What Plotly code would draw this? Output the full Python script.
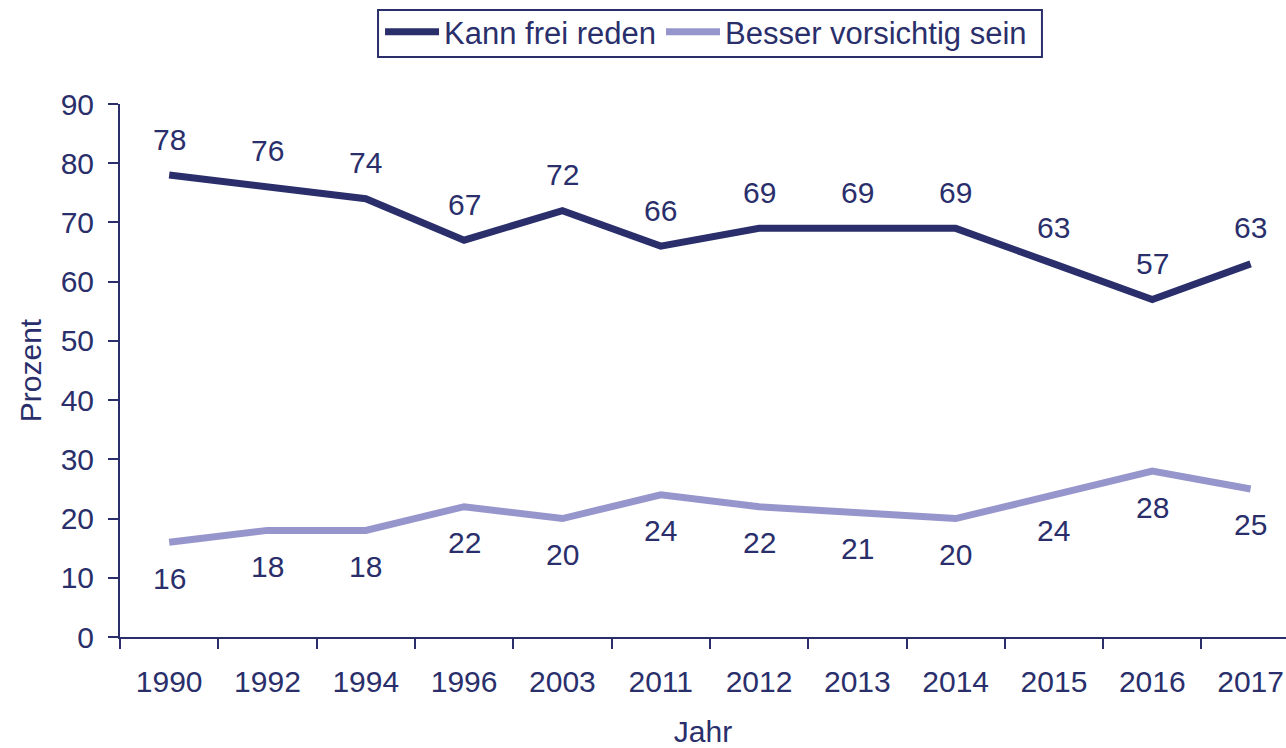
import plotly.graph_objects as go

years = ["1990", "1992", "1994", "1996", "2003", "2011", "2012", "2013", "2014", "2015", "2016", "2017"]
frei = [78, 76, 74, 67, 72, 66, 69, 69, 69, 63, 57, 63]
vorsichtig = [16, 18, 18, 22, 20, 24, 22, 21, 20, 24, 28, 25]

DARK = "#2a2f6b"
LIGHT = "#9696cc"
FONT = "Liberation Sans, Arial, sans-serif"

fig = go.Figure()
fig.add_trace(go.Scatter(x=years, y=frei, mode="lines", name="Kann frei reden",
                         line=dict(color=DARK, width=7), cliponaxis=False))
fig.add_trace(go.Scatter(x=years, y=vorsichtig, mode="lines", name="Besser vorsichtig sein",
                         line=dict(color=LIGHT, width=7), cliponaxis=False))

# category positions on the category axis (index of each year)
for i, y in enumerate(frei):
    fig.add_annotation(x=i, y=y, xref="x", yref="y", text=str(y), showarrow=False, yshift=36,
                       font=dict(size=30, color=DARK, family=FONT))
for i, y in enumerate(vorsichtig):
    fig.add_annotation(x=i, y=y, xref="x", yref="y", text=str(y), showarrow=False, yshift=-36,
                       font=dict(size=30, color=DARK, family=FONT))

# legend frame
fig.add_shape(type="rect", xref="paper", yref="paper",
              x0=0.2213, x1=0.7907, y0=1.0882, y1=1.1764,
              line=dict(color=DARK, width=2), fillcolor="rgba(0,0,0,0)", layer="above")

fig.update_layout(
    width=1286, height=748,
    margin=dict(l=120, r=0, t=104, b=111, autoexpand=False),
    paper_bgcolor="white", plot_bgcolor="white",
    font=dict(family=FONT, size=30, color=DARK),
    showlegend=True,
    legend=dict(orientation="h", x=0.5026, xanchor="center", y=1.1857, yanchor="top",
                borderwidth=0, bgcolor="rgba(0,0,0,0)",
                font=dict(size=31, color=DARK, family=FONT), itemwidth=54,
                tracegroupgap=0),
    xaxis=dict(type="category", range=[-0.5, 11.36], tickson="boundaries",
               ticks="outside", ticklen=10, tickwidth=2, tickcolor=DARK,
               showline=True, linecolor=DARK, linewidth=2, showgrid=False,
               zeroline=False, ticklabelstandoff=17, automargin=False,
               title=dict(text="Jahr", standoff=30, font=dict(size=30, color=DARK))),
    yaxis=dict(range=[0, 90], dtick=10, tick0=0, ticks="outside", ticklen=10, tickwidth=2,
               tickcolor=DARK, showline=True, linecolor=DARK, linewidth=2,
               showgrid=False, zeroline=False, ticklabelstandoff=8, automargin=False,
               title=dict(text="Prozent", standoff=10, font=dict(size=30, color=DARK))),
)

fig.write_html(
    "out.html",
    config={"displayModeBar": False},
    post_script=("document.documentElement.style.margin='0';"
                 "document.documentElement.style.overflow='hidden';"
                 "document.body.style.margin='0';"
                 "document.body.style.overflow='hidden';"),
)
